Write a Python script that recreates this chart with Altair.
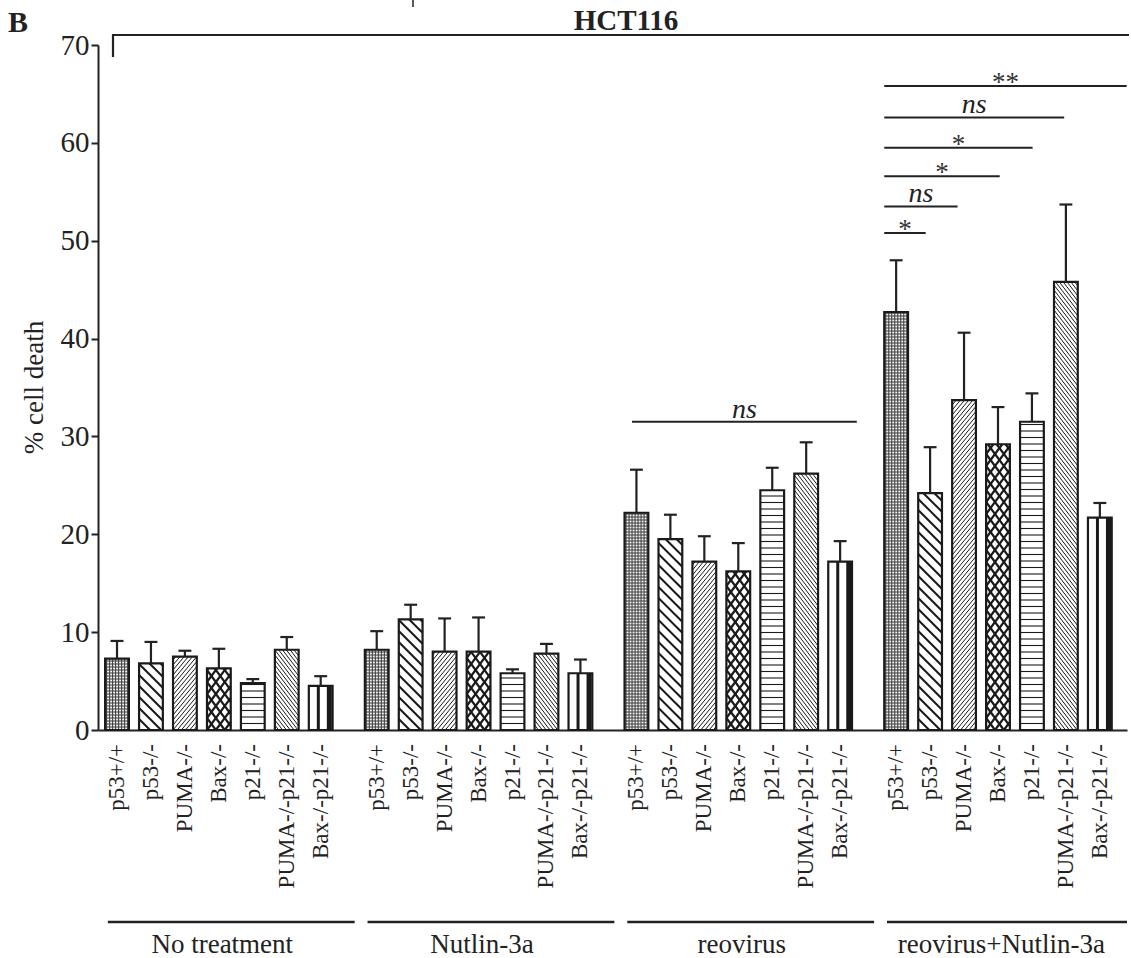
import altair as alt
import numpy as np
import pandas as pd

# ---- data -------------------------------------------------------------
treatments = ["No treatment", "Nutlin-3a", "reovirus", "reovirus+Nutlin-3a"]
genotypes = ["p53+/+", "p53-/-", "PUMA-/-", "Bax-/-", "p21-/-",
             "PUMA-/-p21-/-", "Bax-/-p21-/-"]

# mean % cell death per genotype, one list per treatment
death_no_treatment = [7.3, 6.8, 7.5, 6.3, 4.8, 8.2, 4.5]
death_nutlin = [8.2, 11.3, 8.0, 8.0, 5.8, 7.8, 5.8]
death_reovirus = [22.2, 19.5, 17.2, 16.2, 24.5, 26.2, 17.2]
death_combo = [42.7, 24.2, 33.7, 29.2, 31.5, 45.8, 21.7]

# upper error (SEM)
sem_no_treatment = [1.8, 2.2, 0.6, 2.0, 0.4, 1.3, 1.0]
sem_nutlin = [1.9, 1.5, 3.4, 3.5, 0.4, 1.0, 1.4]
sem_reovirus = [4.4, 2.5, 2.6, 2.9, 2.3, 3.2, 2.1]
sem_combo = [5.3, 4.7, 6.9, 3.8, 2.9, 7.9, 1.5]

# significance brackets (reovirus+Nutlin-3a: p53+/+ vs. each knockout)
sig_label = ["**", "ns", "*", "*", "ns", "*"]
sig_y = [65.8, 62.6, 59.5, 56.6, 53.5, 50.8]
sig_start = [22.6, 22.6, 22.6, 22.6, 22.6, 22.6]
sig_end = [29.74, 27.9, 26.97, 26.0, 24.76, 23.82]
# reovirus group, all genotypes
reo_sig_label = ["ns"]
reo_sig_y = [31.5]
reo_sig_start = [15.17]
reo_sig_end = [21.79]

# ---- layout -----------------------------------------------------------
W, H = 1029, 685
X_DOM = [-0.56, 29.75]
Y_DOM = [0, 70]
GROUP_STEP = 7.65
HALF = 0.35
SX = W / (X_DOM[1] - X_DOM[0])
SY = H / (Y_DOM[1] - Y_DOM[0])
SERIF = "Liberation Serif"

means = [death_no_treatment, death_nutlin, death_reovirus, death_combo]
sems = [sem_no_treatment, sem_nutlin, sem_reovirus, sem_combo]

rows = []
for g, t in enumerate(treatments):
    for i, gt in enumerate(genotypes):
        c = g * GROUP_STEP + i
        rows.append(dict(treatment=t, genotype=gt, gi=i, x=c,
                         x0=c - HALF, x1=c + HALF,
                         v=means[g][i], top=means[g][i] + sems[g][i],
                         c0=c - 0.19, c1=c + 0.19, zero=0.0))
bars = pd.DataFrame(rows)

# hatch families per genotype: (slope in px, spacing px, stroke width)
hatch = {
    0: [(0.0, 3.0, 1.0)],
    1: [(-1.0, 11.0, 2.0)],
    2: [(1.2, 5.0, 1.0)],
    3: [(1.35, 12.0, 2.2), (-1.35, 12.0, 2.2)],
    4: [(0.0, 6.5, 1.1)],
    5: [(-1.3, 5.0, 1.0)],
}
# vertical lines: (offset from left edge px, stroke width)
stripes = {
    0: [(1.5 + 3.0 * k, 1.0) for k in range(8)],
    6: [(9.5, 3.0), (20.5, 5.0)],
}


def family(m, s, wpx, hpx):
    segs = []
    if m == 0:
        w = s
        while w < hpx - 0.5:
            segs.append((0.0, w, wpx, w))
            w += s
        return segs
    span = abs(m) * wpx
    for k in range(int(np.floor(-span / s)) - 1, int(np.ceil((hpx + span) / s)) + 2):
        b = k * s
        if m > 0:
            lo, hi = max(0.0, -b / m), min(wpx, (hpx - b) / m)
        else:
            lo, hi = max(0.0, (hpx - b) / m), min(wpx, -b / m)
        if hi - lo > 0.3:
            segs.append((lo, m * lo + b, hi, m * hi + b))
    return segs


hrows = []
for r in bars.itertuples():
    wpx = 2 * HALF * SX
    hpx = r.v * SY
    shade = "#3a3a3a" if r.gi == 0 else "#1a1a1a"
    for m, s, sw in hatch.get(r.gi, []):
        for u0, w0, u1, w1 in family(m, s, wpx, hpx):
            hrows.append(dict(x=r.x0 + u0 / SX, y=w0 / SY,
                              x2=r.x0 + u1 / SX, y2=w1 / SY, sw=sw, ink=shade))
    for u, sw in stripes.get(r.gi, []):
        hrows.append(dict(x=r.x0 + u / SX, y=0.0, x2=r.x0 + u / SX,
                          y2=r.v, sw=sw, ink=shade))
hatch_df = pd.DataFrame(hrows)

sig = pd.DataFrame(dict(label=sig_label + reo_sig_label,
                        y=sig_y + reo_sig_y,
                        x=sig_start + reo_sig_start,
                        x2=sig_end + reo_sig_end))
sig["mid"] = (sig["x"] + sig["x2"]) / 2

groups = pd.DataFrame(dict(
    treatment=treatments,
    x=[g * GROUP_STEP - 0.27 for g in range(4)],
    x2=[min(g * GROUP_STEP + 7.0, X_DOM[1]) for g in range(4)],
    mid=[g * GROUP_STEP + 3.1 for g in range(4)],
))

xs = alt.Scale(domain=X_DOM, nice=False, zero=False)
ys = alt.Scale(domain=Y_DOM, nice=False, zero=False)

y_axis = alt.Axis(values=list(range(0, 71, 10)), grid=False, tickSize=7,
                  tickWidth=2, tickColor="#222", domainWidth=2,
                  domainColor="#222", labelFont=SERIF, labelFontSize=29,
                  labelColor="#222", labelPadding=2, title="% cell death",
                  titleFont=SERIF, titleFontSize=27, titleFontWeight="normal",
                  titleColor="#222", titleAngle=270, titleX=-64, titleY=342,
                  titleAlign="center", titleBaseline="middle")
x_axis = alt.Axis(labels=False, ticks=False, grid=False, title=None,
                  domainWidth=2, domainColor="#222")

base = alt.Chart(bars)

fill = base.mark_rect().encode(
    x=alt.X("x0:Q", scale=xs, axis=x_axis), x2="x1:Q",
    y=alt.Y("zero:Q", scale=ys, axis=y_axis), y2="v:Q",
    color=alt.Color("gi:N", scale=alt.Scale(
        domain=list(range(7)),
        range=["#f2f2f2"] + ["#ffffff"] * 6), legend=None),
)

hatches = alt.Chart(hatch_df).mark_rule().encode(
    x=alt.X("x:Q", scale=xs), x2="x2:Q",
    y=alt.Y("y:Q", scale=ys), y2="y2:Q",
    strokeWidth=alt.StrokeWidth("sw:Q", scale=None),
    color=alt.Color("ink:N", scale=None),
)

outline = base.mark_rect(fillOpacity=0, stroke="#1a1a1a", strokeWidth=2.2).encode(
    x=alt.X("x0:Q", scale=xs), x2="x1:Q",
    y=alt.Y("zero:Q", scale=ys), y2="v:Q",
)

err = base.mark_rule(color="#222", strokeWidth=2.2).encode(
    x=alt.X("x:Q", scale=xs), y=alt.Y("v:Q", scale=ys), y2="top:Q")
cap = base.mark_rule(color="#222", strokeWidth=2.2).encode(
    x=alt.X("c0:Q", scale=xs), x2="c1:Q", y=alt.Y("top:Q", scale=ys))

sig_lines = alt.Chart(sig).mark_rule(color="#222", strokeWidth=2).encode(
    x=alt.X("x:Q", scale=xs), x2="x2:Q", y=alt.Y("y:Q", scale=ys))
sig_ns = alt.Chart(sig).transform_filter("datum.label == 'ns'").mark_text(
    font=SERIF, fontSize=28, fontStyle="italic", baseline="alphabetic",
    dy=-4, color="#222").encode(
    x=alt.X("mid:Q", scale=xs), y=alt.Y("y:Q", scale=ys), text="label:N")
sig_star = alt.Chart(sig).transform_filter("datum.label != 'ns'").mark_text(
    font=SERIF, fontSize=27, baseline="alphabetic", dy=5,
    color="#333").encode(
    x=alt.X("mid:Q", scale=xs), y=alt.Y("y:Q", scale=ys), text="label:N")

xlabels = base.mark_text(font=SERIF, fontSize=23, angle=270, align="right",
                         baseline="middle", color="#222").encode(
    x=alt.X("x:Q", scale=xs), y=alt.value(H + 14), text="genotype:N")

group_lines = alt.Chart(groups).mark_rule(color="#222", strokeWidth=2.4).encode(
    x=alt.X("x:Q", scale=xs), x2="x2:Q", y=alt.value(H + 192))
group_text = alt.Chart(groups).mark_text(font=SERIF, fontSize=27,
                                         baseline="middle", color="#222").encode(
    x=alt.X("mid:Q", scale=xs), y=alt.value(H + 215), text="treatment:N")

one = pd.DataFrame(dict(panel=["B"], cell=["HCT116"]))
panel = alt.Chart(one).mark_text(font=SERIF, fontSize=30, fontWeight="bold",
                                 align="left", baseline="alphabetic",
                                 color="#222").encode(
    x=alt.value(-90), y=alt.value(-13), text="panel:N")
cell = alt.Chart(one).mark_text(font=SERIF, fontSize=29, fontWeight="bold",
                                align="center", baseline="alphabetic",
                                color="#222").encode(
    x=alt.value(528), y=alt.value(-15), text="cell:N")
bracket = alt.Chart(one).mark_rule(color="#222", strokeWidth=2.2).encode(
    x=alt.value(15), x2=alt.value(1031), y=alt.value(-10))
bracket_tick = alt.Chart(one).mark_rule(color="#222", strokeWidth=2.2).encode(
    x=alt.value(15), y=alt.value(-11), y2=alt.value(12))
top_tick = alt.Chart(one).mark_rule(color="#222", strokeWidth=1.5).encode(
    x=alt.value(315), y=alt.value(-45), y2=alt.value(-38))

chart = alt.layer(
    fill, hatches, outline, err, cap, sig_lines, sig_ns, sig_star,
    xlabels, group_lines, group_text, panel, cell, bracket, bracket_tick,
    top_tick,
).properties(
    width=W, height=H,
    autosize=alt.AutoSizeParams(type="none"),
    padding={"left": 98, "top": 45, "right": 4, "bottom": 228},
    background="white",
).configure_view(stroke=None)

chart.save("out.html", embed_options={"renderer": "svg", "actions": False})
